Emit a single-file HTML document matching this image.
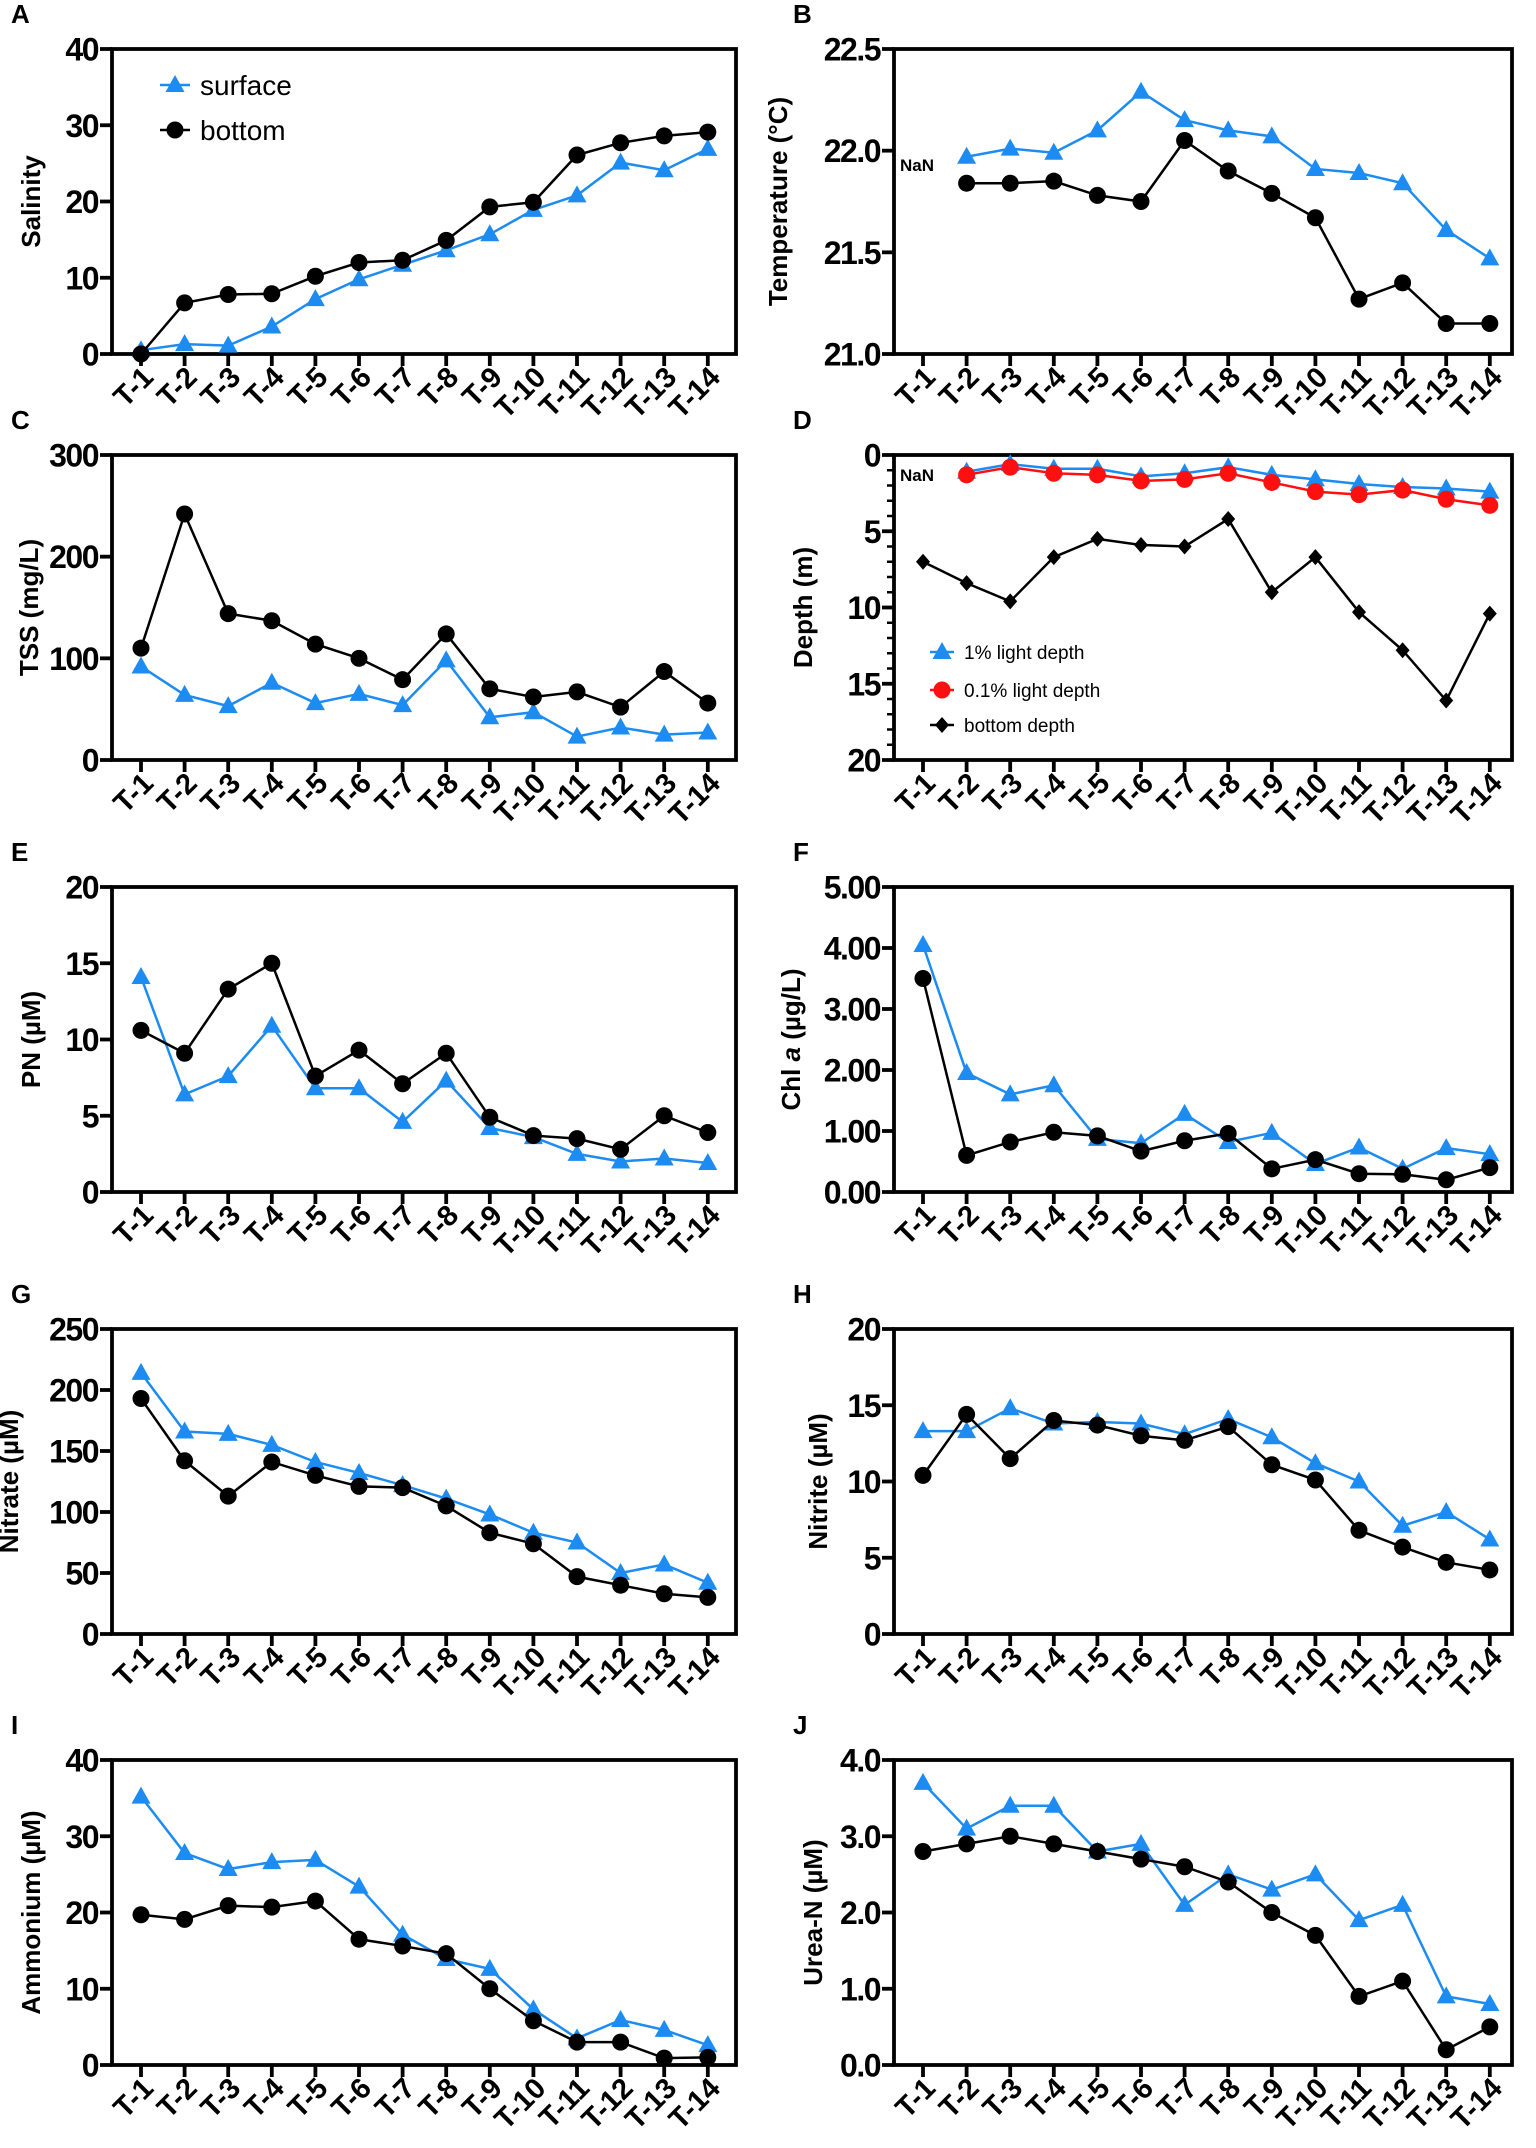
<!DOCTYPE html>
<html><head><meta charset="utf-8"><style>
html,body{margin:0;padding:0;background:#fff}
svg{display:block}
text{font-family:"Liberation Sans",Arial,sans-serif;font-weight:bold;fill:#000}
</style></head><body>
<svg id="fig" width="1536" height="2148" viewBox="0 0 1536 2148" xmlns="http://www.w3.org/2000/svg"></svg>
<script>
const categories=["T-1","T-2","T-3","T-4","T-5","T-6","T-7","T-8","T-9","T-10","T-11","T-12","T-13","T-14"];
const salSurface=[0.5,1.3,1.1,3.6,7.2,9.8,11.7,13.6,15.7,18.9,20.8,25.1,24.1,26.9];
const salBottom=[0,6.7,7.8,7.9,10.2,12.0,12.3,14.9,19.3,19.9,26.1,27.7,28.6,29.1];
const tempSurface=[null,21.97,22.01,21.99,22.10,22.29,22.15,22.10,22.07,21.91,21.89,21.84,21.61,21.47];
const tempBottom=[null,21.84,21.84,21.85,21.78,21.75,22.05,21.90,21.79,21.67,21.27,21.35,21.15,21.15];
const tssSurface=[92,64,53,76,56,65,54,98,42,47,23,32,25,27];
const tssBottom=[110,242,144,137,114,100,79,124,70,62,67,52,87,56];
const light1=[null,1.1,0.6,0.9,0.9,1.4,1.2,0.8,1.3,1.6,1.9,2.1,2.2,2.4];
const light01=[null,1.3,0.8,1.2,1.3,1.7,1.6,1.2,1.8,2.4,2.6,2.3,2.9,3.3];
const bottomDepth=[7.0,8.4,9.6,6.7,5.5,5.9,6.0,4.2,9.0,6.7,10.3,12.8,16.1,10.4];
const pnSurface=[14.1,6.4,7.6,10.9,6.8,6.8,4.6,7.3,4.2,3.6,2.5,2.0,2.2,1.9];
const pnBottom=[10.6,9.1,13.3,15.0,7.6,9.3,7.1,9.1,4.9,3.7,3.5,2.8,5.0,3.9];
const chlSurface=[4.05,1.95,1.60,1.75,0.87,0.80,1.28,0.82,0.97,0.46,0.73,0.38,0.72,0.62];
const chlBottom=[3.50,0.60,0.82,0.98,0.92,0.67,0.84,0.96,0.38,0.53,0.30,0.29,0.20,0.40];
const no3Surface=[214,166,164,155,141,132,122,111,98,83,75,50,57,42];
const no3Bottom=[193,142,113,141,130,121,120,105,83,74,47,40,33,30];
const no2Surface=[13.3,13.3,14.8,13.8,13.9,13.8,13.1,14.1,12.9,11.2,10.0,7.1,8.0,6.2];
const no2Bottom=[10.4,14.4,11.5,14.0,13.7,13.0,12.7,13.6,11.1,10.1,6.8,5.7,4.7,4.2];
const nh4Surface=[35.2,27.8,25.7,26.6,26.9,23.4,17.1,13.9,12.6,7.3,3.5,5.9,4.6,2.6];
const nh4Bottom=[19.7,19.1,20.9,20.7,21.5,16.5,15.6,14.6,10.0,5.8,3.0,3.0,0.9,1.0];
const ureaSurface=[3.7,3.1,3.4,3.4,2.8,2.9,2.1,2.5,2.3,2.5,1.9,2.1,0.9,0.8];
const ureaBottom=[2.8,2.9,3.0,2.9,2.8,2.7,2.6,2.4,2.0,1.7,0.9,1.1,0.2,0.5];
const ticksA=["0","10","20","30","40"], ticksB=["21.0","21.5","22.0","22.5"], ticksC=["0","100","200","300"];
const ticksD=["0","5","10","15","20"], ticksE=["0","5","10","15","20"], ticksF=["0.00","1.00","2.00","3.00","4.00","5.00"];
const ticksG=["0","50","100","150","200","250"], ticksH=["0","5","10","15","20"], ticksI=["0","10","20","30","40"], ticksJ=["0.0","1.0","2.0","3.0","4.0"];

const NS="http://www.w3.org/2000/svg";
const svg=document.getElementById('fig');
const BLUE="#1c8cf2", RED="#ff1010";
function mk(tag,attrs,parent){const e=document.createElementNS(NS,tag);for(const k in attrs)e.setAttribute(k,attrs[k]);(parent||svg).appendChild(e);return e;}

function panel(o){
  const g=mk('g',{});
  
  
  const L=o.left,R=o.left+o.w,T=o.top,B=o.top+o.h;
  const x0=L+29, step=43.6;
  const xs=i=>x0+i*step;
  const lo=parseFloat(o.ticks[0]), hi=parseFloat(o.ticks[o.ticks.length-1]);
  const ys=v=>o.reverse? T+(v-lo)/(hi-lo)*o.h : B-(v-lo)/(hi-lo)*o.h;
  const lt=mk('text',{x:o.left-101,y:T-26,'font-size':26},g);lt.textContent=o.letter;
  
  
  const fr=mk('rect',{x:L,y:T,width:o.w,height:o.h,fill:'none',stroke:'#000','stroke-width':3.8},g);
  
  
  o.ticks.forEach(t=>{const v=parseFloat(t),y=ys(v);
    mk('line',{x1:L-12,x2:L,y1:y,y2:y,stroke:'#000','stroke-width':3.8},g);
    const tx=mk('text',{x:L-14,y:y+11.5,'font-size':32,'text-anchor':'end','letter-spacing':'-1.5'},g);tx.textContent=t;
    
    
  });
  if(o.minor){for(let v=lo;v<=hi;v+=o.minor){const y=ys(v);mk('line',{x1:L-7,x2:L,y1:y,y2:y,stroke:'#000','stroke-width':2.5},g);}}
  categories.forEach((c,i)=>{const x=xs(i);
    mk('line',{x1:x,x2:x,y1:B,y2:B+12,stroke:'#000','stroke-width':3.8},g);
    const tx=mk('text',{x:0,y:0,'font-size':29,'text-anchor':'end',transform:`translate(${x+14},${B+25}) rotate(-45)`},g);tx.textContent=c;
    
    
  });
  const yt=mk('text',{x:0,y:0,'font-size':26,'text-anchor':'middle',transform:`translate(${o.titleX},${T+o.h/2}) rotate(-90)`},g);
  yt.innerHTML=o.title;
  
  
  if(o.nan){const n=mk('text',{x:L+6,y:ys(o.nan)+6,'font-size':17},g);n.textContent='NaN';
    
    }
  o.series.forEach(s=>{
    const sg=mk('g',{},g);
    
    
    let d='';s.data.forEach((v,i)=>{if(v===null)return;d+=(d?'L':'M')+xs(i)+','+ys(v);});
    mk('path',{d:d,fill:'none',stroke:s.color,'stroke-width':2.5},sg);
    s.data.forEach((v,i)=>{if(v===null)return;marker(sg,s.shape,xs(i),ys(v),s.color);});
  });
  return {g,L,T};
}
function marker(p,shape,x,y,c){
  let m;
  if(shape==='tri') m=mk('path',{d:`M${x},${y-10}L${x+9.5},${y+7}L${x-9.5},${y+7}Z`,fill:c},p);
  else if(shape==='dia') m=mk('path',{d:`M${x},${y-8}L${x+7},${y}L${x},${y+8}L${x-7},${y}Z`,fill:c},p);
  else m=mk('circle',{cx:x,cy:y,r:8.5,fill:c},p);
  
  
}
function legendEntry(p,shape,color,x,y,label,fs,len){
  const g=mk('g',{},p);
  
  
  mk('line',{x1:x-len,x2:x+len,y1:y,y2:y,stroke:color,'stroke-width':2.5},g);
  marker(g,shape,x,y,color);
  const t=mk('text',{x:x+len+10,y:y+fs*0.36,'font-size':fs,style:'font-weight:normal'},g);t.textContent=label;
}
const LX=112, RX=894, W=624, H=305;
const rows=[49,455,887,1329,1760];
const sBlue=(d)=>({name:'surface-series',data:d,color:BLUE,shape:'tri'});
const sBlack=(d)=>({name:'bottom-series',data:d,color:'#000',shape:'circ'});
const pA=panel({name:'panel-a-salinity',letter:'A',left:LX,top:rows[0],w:W,h:H,ticks:ticksA,title:'Salinity',titleX:40,series:[sBlue(salSurface),sBlack(salBottom)]});
legendEntry(pA.g,'tri',BLUE,175,85,'surface',28,15);
legendEntry(pA.g,'circ','#000',175,130,'bottom',28,15);
panel({name:'panel-b-temperature',letter:'B',left:RX,top:rows[0],w:W-6,h:H,ticks:ticksB,title:'Temperature (°C)',titleX:787,nan:22.0-0.07,series:[sBlue(tempSurface),sBlack(tempBottom)]});
panel({name:'panel-c-tss',letter:'C',left:LX,top:rows[1],w:W,h:H,ticks:ticksC,title:'TSS (mg/L)',titleX:38,series:[sBlue(tssSurface),sBlack(tssBottom)]});
const pD=panel({name:'panel-d-depth',letter:'D',left:RX,top:rows[1],w:W-6,h:H,ticks:ticksD,reverse:true,minor:1,title:'Depth (m)',titleX:812,nan:1.3,series:[
 {name:'light-1pct-series',data:light1,color:BLUE,shape:'tri'},
 {name:'light-0.1pct-series',data:light01,color:RED,shape:'circ'},
 {name:'bottom-depth-series',data:bottomDepth,color:'#000',shape:'dia'}]});
legendEntry(pD.g,'tri',BLUE,942,652,'1% light depth',19,12);
legendEntry(pD.g,'circ',RED,942,690,'0.1% light depth',19,12);
legendEntry(pD.g,'dia','#000',942,725,'bottom depth',19,12);
panel({name:'panel-e-pn',letter:'E',left:LX,top:rows[2],w:W,h:H,ticks:ticksE,title:'PN (µM)',titleX:40,series:[sBlue(pnSurface),sBlack(pnBottom)]});
panel({name:'panel-f-chla',letter:'F',left:RX,top:rows[2],w:W-6,h:H,ticks:ticksF,title:'Chl <tspan font-style="italic">a</tspan> (µg/L)',titleX:800,series:[sBlue(chlSurface),sBlack(chlBottom)]});
panel({name:'panel-g-nitrate',letter:'G',left:LX,top:rows[3],w:W,h:H,ticks:ticksG,title:'Nitrate (µM)',titleX:18,series:[sBlue(no3Surface),sBlack(no3Bottom)]});
panel({name:'panel-h-nitrite',letter:'H',left:RX,top:rows[3],w:W-6,h:H,ticks:ticksH,title:'Nitrite (µM)',titleX:827,series:[sBlue(no2Surface),sBlack(no2Bottom)]});
panel({name:'panel-i-ammonium',letter:'I',left:LX,top:rows[4],w:W,h:H,ticks:ticksI,title:'Ammonium (µM)',titleX:40,series:[sBlue(nh4Surface),sBlack(nh4Bottom)]});
panel({name:'panel-j-urea',letter:'J',left:RX,top:rows[4],w:W-6,h:H,ticks:ticksJ,title:'Urea-N (µM)',titleX:822,series:[sBlue(ureaSurface),sBlack(ureaBottom)]});
</script>
</body></html>
